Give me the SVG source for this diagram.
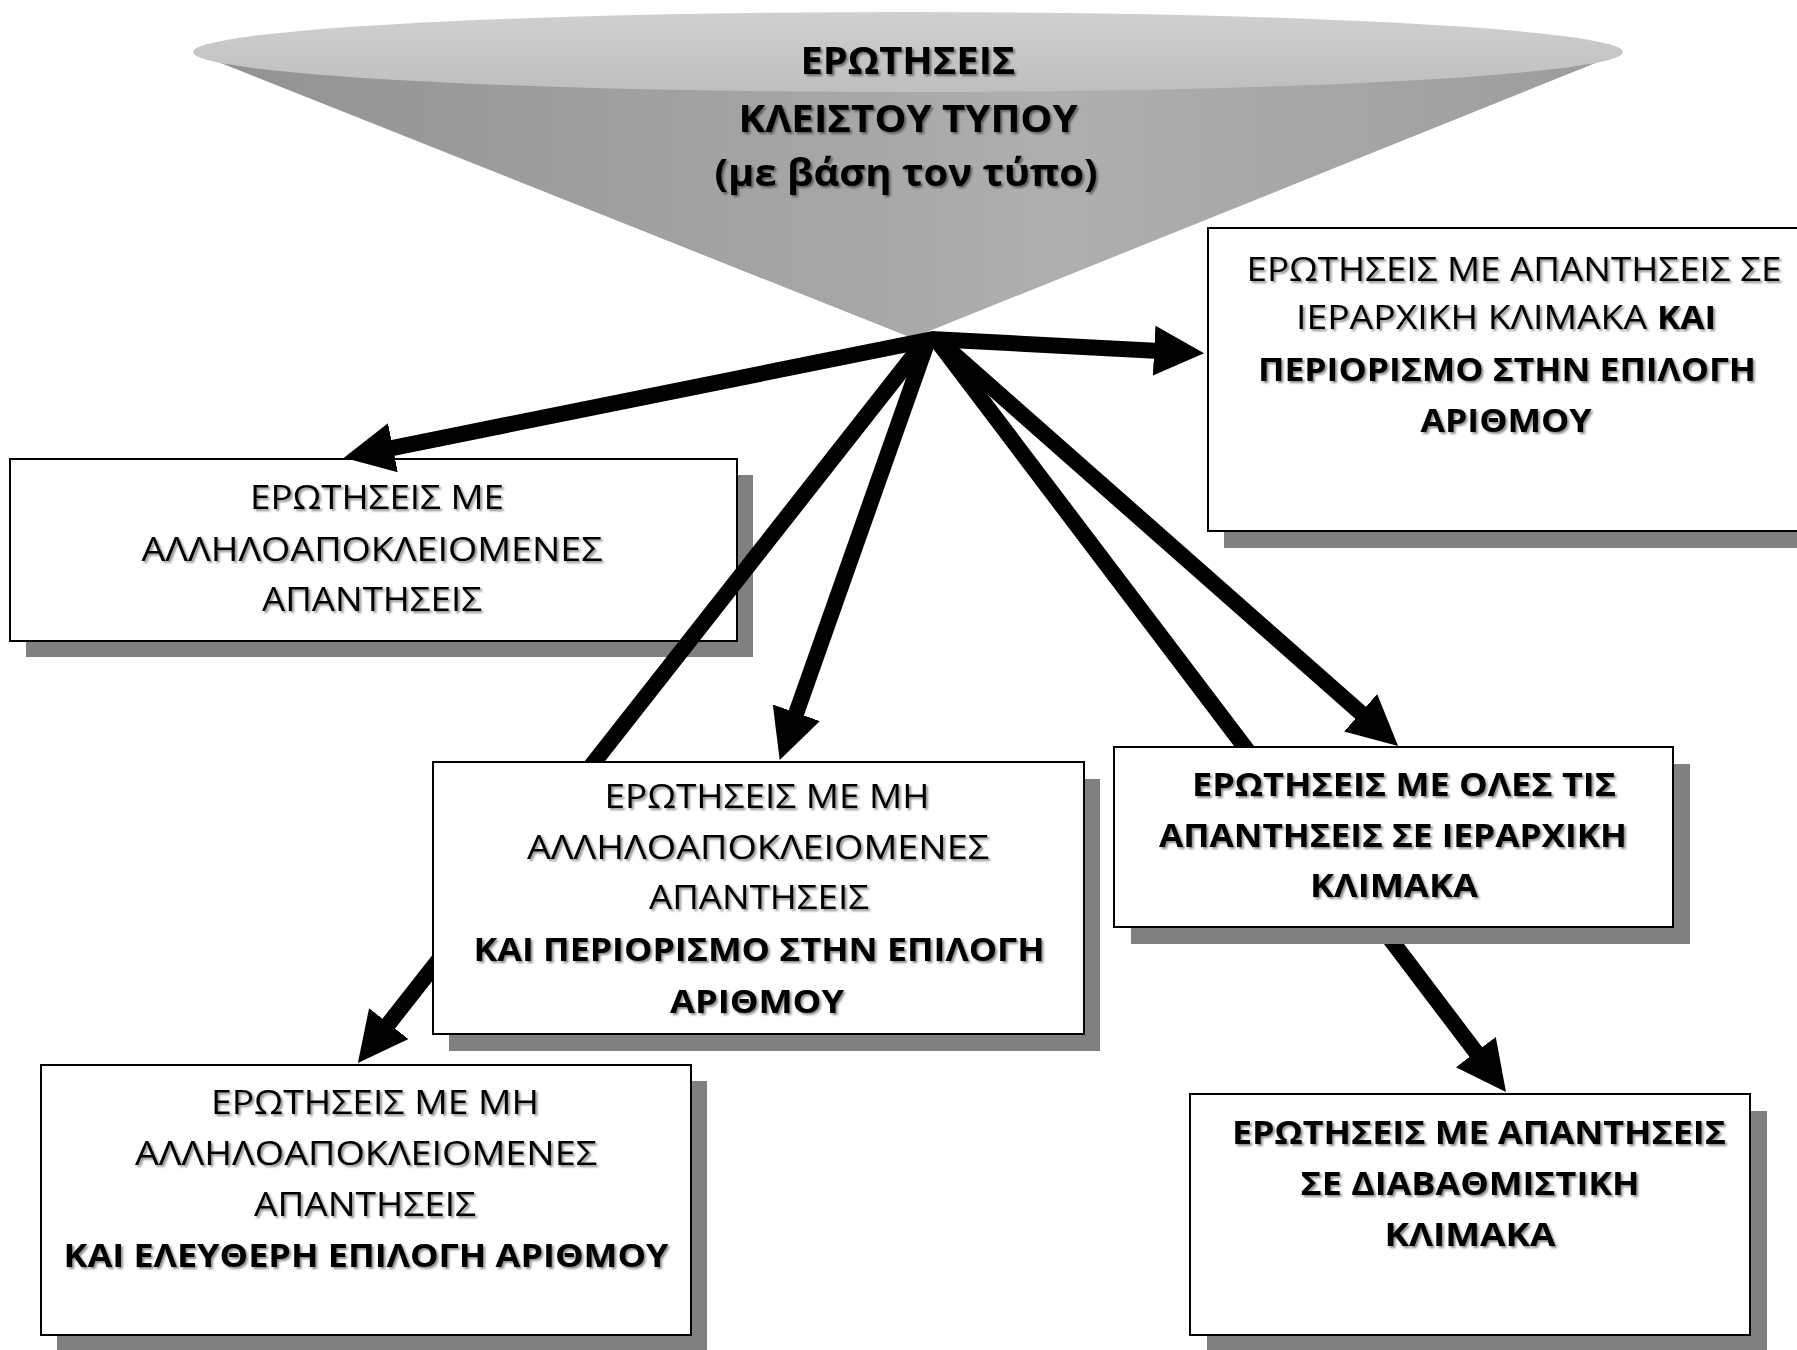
<svg xmlns="http://www.w3.org/2000/svg" width="1797" height="1350" viewBox="0 0 1797 1350">
<defs>
<linearGradient id="coneBody" x1="0" y1="0" x2="1" y2="0">
<stop offset="0" stop-color="#929292"/>
<stop offset="0.45" stop-color="#a6a6a6"/>
<stop offset="0.6" stop-color="#afafaf"/>
<stop offset="1" stop-color="#9c9c9c"/>
</linearGradient>
<linearGradient id="coneTop" x1="0" y1="0" x2="0" y2="1">
<stop offset="0" stop-color="#d0d0d0"/>
<stop offset="1" stop-color="#bebebe"/>
</linearGradient>
<filter id="ts" x="-10%" y="-30%" width="120%" height="160%">
<feDropShadow dx="2" dy="2" stdDeviation="1.2" flood-color="#000" flood-opacity="0.45"/>
</filter>
<marker id="ah" markerUnits="userSpaceOnUse" markerWidth="52" markerHeight="52" refX="20" refY="25" orient="auto" viewBox="0 0 52 52">
<path d="M0,0 L50,25 L0,50 z" fill="#000"/>
</marker>
<style>
.box{fill:#fff;stroke:#000;stroke-width:2}
.shd{fill:#808080}
.t{font-family:"Open Sans","Noto Sans","DejaVu Sans",sans-serif;font-size:33px;fill:#000;text-anchor:middle;filter:url(#ts)}
.b{font-weight:bold}
.cone{font-size:37px}
.st{text-anchor:start}
.con{stroke:#000;stroke-width:16;fill:none;stroke-linecap:butt}
</style>
</defs>
<rect width="1797" height="1350" fill="#fff"/>

<g id="cone">
<path d="M193,52 L912,338 L1623,52 Z" fill="url(#coneBody)"/>
<ellipse cx="908" cy="52" rx="715" ry="40" fill="url(#coneTop)"/>
<text class="t b cone" x="908" y="74" textLength="215" lengthAdjust="spacingAndGlyphs">ΕΡΩΤΗΣΕΙΣ</text>
<text class="t b cone" x="908" y="132" textLength="339" lengthAdjust="spacingAndGlyphs">ΚΛΕΙΣΤΟΥ ΤΥΠΟΥ</text>
<text class="t b cone" x="906" y="186" textLength="383" lengthAdjust="spacingAndGlyphs">(με βάση τον τύπο)</text>
</g>

<g id="nodeA">
<rect class="shd" x="26" y="475" width="727" height="182"/>
<rect class="box" x="10" y="459" width="727" height="182"/>
<text class="t" x="377" y="509" textLength="254" lengthAdjust="spacingAndGlyphs">ΕΡΩΤΗΣΕΙΣ ΜΕ</text>
<text class="t" x="372" y="561" textLength="461" lengthAdjust="spacingAndGlyphs">ΑΛΛΗΛΟΑΠΟΚΛΕΙΟΜΕΝΕΣ</text>
<text class="t" x="372" y="611" textLength="220" lengthAdjust="spacingAndGlyphs">ΑΠΑΝΤΗΣΕΙΣ</text>
</g>

<g id="connectors">
<line class="con" x1="933" y1="339" x2="373.3" y2="451.8" marker-end="url(#ah)"/>
<line class="con" x1="931" y1="339" x2="1174.1" y2="351.7" marker-end="url(#ah)"/>
<line class="con" x1="927" y1="343" x2="789.7" y2="731.6" marker-end="url(#ah)"/>
<line class="con" x1="921" y1="346" x2="376.4" y2="1039.3" marker-end="url(#ah)"/>
<line class="con" x1="938" y1="342" x2="1487.9" y2="1068" marker-end="url(#ah)"/>
<line class="con" x1="938" y1="340" x2="1375.6" y2="726.1" marker-end="url(#ah)"/>
</g>

<g id="nodeB">
<rect class="shd" x="1224" y="245" width="610" height="303"/>
<rect class="box" x="1208" y="228" width="610" height="303"/>
<text class="t" x="1514" y="281" textLength="535" lengthAdjust="spacingAndGlyphs">ΕΡΩΤΗΣΕΙΣ ΜΕ ΑΠΑΝΤΗΣΕΙΣ ΣΕ</text>
<text class="t st" x="1296" y="329" textLength="351" lengthAdjust="spacingAndGlyphs">ΙΕΡΑΡΧΙΚΗ ΚΛΙΜΑΚΑ</text>
<text class="t b st" x="1657" y="329" textLength="59" lengthAdjust="spacingAndGlyphs">ΚΑΙ</text>
<text class="t b" x="1507" y="381" textLength="498" lengthAdjust="spacingAndGlyphs">ΠΕΡΙΟΡΙΣΜΟ ΣΤΗΝ ΕΠΙΛΟΓΗ</text>
<text class="t b" x="1506" y="432" textLength="171" lengthAdjust="spacingAndGlyphs">ΑΡΙΘΜΟΥ</text>
</g>

<g id="nodeC">
<rect class="shd" x="449" y="779" width="651" height="272"/>
<rect class="box" x="433" y="762" width="651" height="272"/>
<text class="t" x="767" y="808" textLength="325" lengthAdjust="spacingAndGlyphs">ΕΡΩΤΗΣΕΙΣ ΜΕ ΜΗ</text>
<text class="t" x="758" y="859" textLength="462" lengthAdjust="spacingAndGlyphs">ΑΛΛΗΛΟΑΠΟΚΛΕΙΟΜΕΝΕΣ</text>
<text class="t" x="759" y="909" textLength="220" lengthAdjust="spacingAndGlyphs">ΑΠΑΝΤΗΣΕΙΣ</text>
<text class="t b" x="759" y="961" textLength="571" lengthAdjust="spacingAndGlyphs">ΚΑΙ ΠΕΡΙΟΡΙΣΜΟ ΣΤΗΝ ΕΠΙΛΟΓΗ</text>
<text class="t b" x="757" y="1013" textLength="174" lengthAdjust="spacingAndGlyphs">ΑΡΙΘΜΟΥ</text>
</g>

<g id="nodeD">
<rect class="shd" x="1131" y="764" width="559" height="180"/>
<rect class="box" x="1114" y="747" width="559" height="180"/>
<text class="t b" x="1404" y="796" textLength="424" lengthAdjust="spacingAndGlyphs">ΕΡΩΤΗΣΕΙΣ ΜΕ ΟΛΕΣ ΤΙΣ</text>
<text class="t b" x="1393" y="847" textLength="468" lengthAdjust="spacingAndGlyphs">ΑΠΑΝΤΗΣΕΙΣ ΣΕ ΙΕΡΑΡΧΙΚΗ</text>
<text class="t b" x="1394" y="897" textLength="168" lengthAdjust="spacingAndGlyphs">ΚΛΙΜΑΚΑ</text>
</g>

<g id="nodeE">
<rect class="shd" x="1207" y="1111" width="560" height="241"/>
<rect class="box" x="1190" y="1094" width="560" height="241"/>
<text class="t b" x="1479" y="1144" textLength="494" lengthAdjust="spacingAndGlyphs">ΕΡΩΤΗΣΕΙΣ ΜΕ ΑΠΑΝΤΗΣΕΙΣ</text>
<text class="t b" x="1470" y="1195" textLength="339" lengthAdjust="spacingAndGlyphs">ΣΕ ΔΙΑΒΑΘΜΙΣΤΙΚΗ</text>
<text class="t b" x="1470" y="1246" textLength="171" lengthAdjust="spacingAndGlyphs">ΚΛΙΜΑΚΑ</text>
</g>

<g id="nodeF">
<rect class="shd" x="57" y="1081" width="650" height="270"/>
<rect class="box" x="41" y="1065" width="650" height="270"/>
<text class="t" x="375" y="1114" textLength="328" lengthAdjust="spacingAndGlyphs">ΕΡΩΤΗΣΕΙΣ ΜΕ ΜΗ</text>
<text class="t" x="366" y="1165" textLength="462" lengthAdjust="spacingAndGlyphs">ΑΛΛΗΛΟΑΠΟΚΛΕΙΟΜΕΝΕΣ</text>
<text class="t" x="365" y="1216" textLength="222" lengthAdjust="spacingAndGlyphs">ΑΠΑΝΤΗΣΕΙΣ</text>
<text class="t b" x="366" y="1267" textLength="605" lengthAdjust="spacingAndGlyphs">ΚΑΙ ΕΛΕΥΘΕΡΗ ΕΠΙΛΟΓΗ ΑΡΙΘΜΟΥ</text>
</g>
</svg>
